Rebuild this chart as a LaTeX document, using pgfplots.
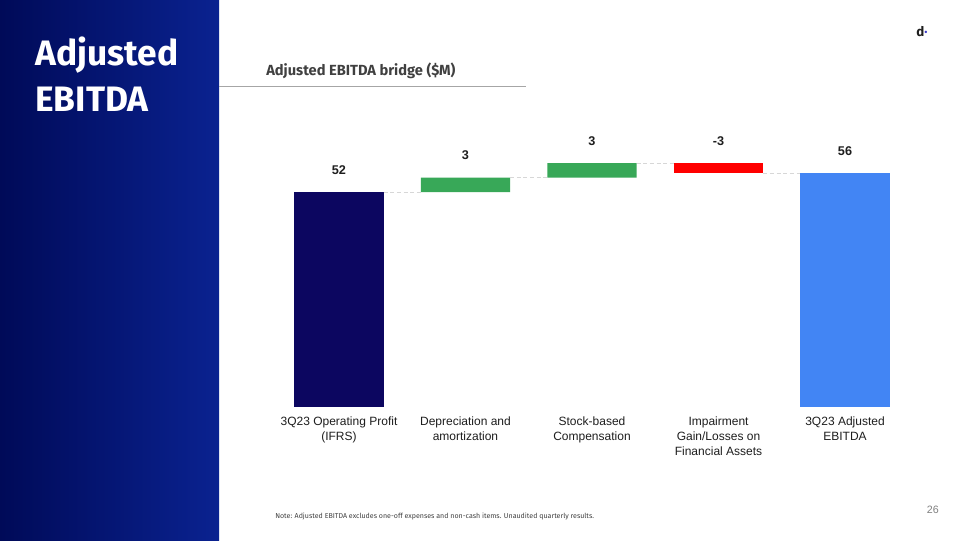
\documentclass[border=0pt]{standalone}
\usepackage{fontspec}
\usepackage{pgfplots}
\pgfplotsset{compat=1.18}
\setmainfont{Liberation Sans}
\newfontfamily\labfont{Liberation Sans}
\newfontfamily\titlefont{Fira Sans}
\definecolor{barnavy}{RGB}{12,6,96}
\definecolor{bargreen}{RGB}{56,168,88}
\definecolor{barred}{RGB}{255,0,0}
\definecolor{barblue}{RGB}{66,133,244}
\definecolor{panelL}{RGB}{0,10,88}
\definecolor{panelR}{RGB}{10,34,144}
\definecolor{subgray}{RGB}{64,64,64}
\definecolor{labgray}{RGB}{30,30,30}
\definecolor{connector}{RGB}{215,215,215}
\definecolor{logoblue}{RGB}{60,60,200}
\begin{document}
\begin{tikzpicture}
\begin{scope}[x=0.75pt,y=0.75pt]
\useasboundingbox (0,0) rectangle (960,540);
\fill[white] (0,0) rectangle (960,540);
\shade[left color=panelL, right color=panelR] (0,0) rectangle (219,540);
\node[anchor=base west, text=white, font=\titlefont\bfseries\fontsize{26.5}{32}\selectfont, inner sep=0pt] at (35,474) {Adjusted};
\node[anchor=base west, text=white, font=\titlefont\bfseries\fontsize{26.5}{32}\selectfont, inner sep=0pt] at (35,428) {EBITDA};
\node[anchor=base west, text=subgray, font=\titlefont\bfseries\fontsize{11}{13}\selectfont, inner sep=0pt] at (266,464) {Adjusted EBITDA bridge (\$M)};
\draw[gray!70, line width=0.75pt] (219,453) -- (526,453);
\node[anchor=base west, text=labgray, font=\titlefont\bfseries\fontsize{10}{12}\selectfont, inner sep=0pt] at (916,503) {d\textcolor{logoblue}{\raisebox{0.5pt}{·}}};
\node[anchor=base east, text=gray, font=\labfont\fontsize{8}{10}\selectfont, inner sep=0pt] at (939,27) {26};
\node[anchor=base west, text=subgray, font=\titlefont\fontsize{5.3}{6.5}\selectfont, inner sep=0pt] at (275,22) {Note: Adjusted EBITDA excludes one-off expenses and non-cash items. Unaudited quarterly results.};
\end{scope}

\begin{axis}[
  at={(206.8pt,99.75pt)}, anchor=south west,
  scale only axis, width=474.4pt, height=186pt,
  xmin=-0.5, xmax=4.5, ymin=0, ymax=60,
  ybar stacked, bar width=67pt,
  axis line style={draw=none},
  ytick=\empty, xtick={0,1,2,3,4},
  xticklabels={{3Q23 Operating Profit\\(IFRS)},{Depreciation and\\amortization},{Stock-based\\Compensation},{Impairment\\Gain/Losses on\\Financial Assets},{3Q23 Adjusted\\EBITDA}},
  xticklabel style={align=center, font=\labfont\fontsize{9}{11.4}\selectfont, inner sep=0pt, anchor=north, yshift=-7pt, text=labgray},
  major tick length=0pt,
  clip=false,
]
\addplot[draw=none, fill=none] coordinates {(0,0) (1,52) (2,55.5) (3,56.5) (4,0)};
\addplot[draw=none, fill=barnavy] coordinates {(0,52) (1,0) (2,0) (3,0) (4,0)};
\addplot[draw=none, fill=bargreen] coordinates {(0,0) (1,3.5) (2,3.5) (3,0) (4,0)};
\addplot[draw=none, fill=barred] coordinates {(0,0) (1,0) (2,0) (3,2.5) (4,0)};
\addplot[draw=none, fill=barblue] coordinates {(0,0) (1,0) (2,0) (3,0) (4,56.5)};
\end{axis}

\begin{axis}[
  at={(206.8pt,99.75pt)}, anchor=south west,
  scale only axis, width=474.4pt, height=186pt,
  xmin=-0.5, xmax=4.5, ymin=0, ymax=60,
  hide axis, clip=false,
]
\addplot[draw=connector, dash pattern=on 3pt off 2pt, line width=0.75pt] coordinates {(0.353,52) (0.647,52)};
\addplot[draw=connector, dash pattern=on 3pt off 2pt, line width=0.75pt] coordinates {(1.353,55.5) (1.647,55.5)};
\addplot[draw=connector, dash pattern=on 3pt off 2pt, line width=0.75pt] coordinates {(2.353,59) (2.647,59)};
\addplot[draw=connector, dash pattern=on 3pt off 2pt, line width=0.75pt] coordinates {(3.353,56.5) (3.647,56.5)};
\addplot[draw=none, mark=none, nodes near coords, point meta=explicit symbolic,
  nodes near coords style={font=\bfseries\fontsize{9.5}{11}\selectfont, text=labgray, anchor=center, yshift=16.5pt, inner sep=0pt}]
  coordinates {(0,52) [52] (1,55.5) [3] (2,59) [3] (3,59) [-3] (4,56.5) [56]};
\end{axis}
\end{tikzpicture}
\end{document}
